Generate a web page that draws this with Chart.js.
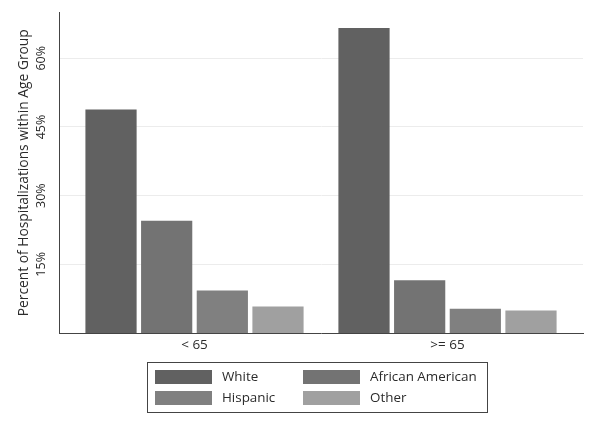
<!DOCTYPE html>
<html>
<head>
<meta charset="utf-8">
<script src="https://cdn.jsdelivr.net/npm/chart.js@4.4.1/dist/chart.umd.min.js"></script>
<style>
  html, body { margin: 0; padding: 0; background: #fff; }
</style>
</head>
<body>
<canvas id="chart" width="600" height="422"></canvas>
<script>
// data
const categories = ['< 65', '>= 65'];
const seriesNames = ['White', 'African American', 'Hispanic', 'Other'];
const white = [48.8, 66.6];
const africanAmerican = [24.5, 11.5];
const hispanic = [9.3, 5.3];
const other = [5.8, 4.9];
const yTicks = [15, 30, 45, 60];

const colors = ['#616161', '#737373', '#808080', '#a0a0a0'];
const textColor = '#2b2b2b';

Chart.defaults.font.family = '"Open Sans", sans-serif';
Chart.defaults.font.size = 13.5;
Chart.defaults.color = textColor;

// legend with a frame and two fixed columns, like the original
const boxLegend = {
    id: 'boxLegend',
    afterDraw(chart) {
        const ctx = chart.ctx;
        const cols = [155, 303];
        const rows = [370, 391];
        ctx.save();
        ctx.strokeStyle = '#444';
        ctx.lineWidth = 1;
        ctx.strokeRect(147.5, 362.5, 340, 50);
        ctx.font = '13.4px "Open Sans", sans-serif';
        ctx.textBaseline = 'middle';
        chart.data.datasets.forEach((ds, i) => {
            const x = cols[i % 2];
            const y = rows[Math.floor(i / 2)];
            ctx.fillStyle = ds.backgroundColor;
            ctx.fillRect(x, y, 57, 14);
            ctx.fillStyle = textColor;
            ctx.fillText(ds.label, x + 67, y + 7.5);
        });
        ctx.restore();
    }
};

const allValues = [white, africanAmerican, hispanic, other];

new Chart(document.getElementById('chart'), {
    type: 'bar',
    data: {
        datasets: allValues.map((vals, i) => ({
            label: seriesNames[i],
            data: vals.map((v, j) => ({ x: j, y: v })),
            backgroundColor: colors[i],
            borderWidth: 0,
            categoryPercentage: 0.88,
            barPercentage: 0.92
        }))
    },
    options: {
        responsive: false,
        animation: false,
        layout: { padding: { top: 12, right: 17, left: 0, bottom: 0 } },
        plugins: {
            legend: { display: false },
            tooltip: { enabled: false }
        },
        scales: {
            x: {
                type: 'linear',
                offset: false,
                bounds: 'data',
                min: -0.5356,
                max: 1.5356,
                afterBuildTicks: (s) => { s.ticks = categories.map((c, i) => ({ value: i })); },
                afterFit: (s) => { s.height = 89; },
                grid: { display: false, drawTicks: false, offset: false },
                border: { display: true, color: '#444', width: 1 },
                ticks: {
                    padding: 4,
                    maxRotation: 0,
                    callback: (v) => categories[v]
                }
            },
            y: {
                min: 0,
                max: 70,
                afterBuildTicks: (s) => { s.ticks = yTicks.map(v => ({ value: v })); },
                afterFit: (s) => { s.width = 59; },
                grid: { color: '#ececec', drawTicks: false },
                border: { display: true, color: '#444', width: 1 },
                ticks: {
                    font: { size: 12.5 },
                    minRotation: 90,
                    maxRotation: 90,
                    crossAlign: 'center',
                    padding: 5,
                    callback: (v) => v + '%'
                },
                title: {
                    display: true,
                    text: 'Percent of Hospitalizations within Age Group',
                    font: { size: 13.8 },
                    padding: { top: 16, bottom: 0 }
                }
            }
        }
    },
    plugins: [boxLegend]
});
</script>
</body>
</html>
